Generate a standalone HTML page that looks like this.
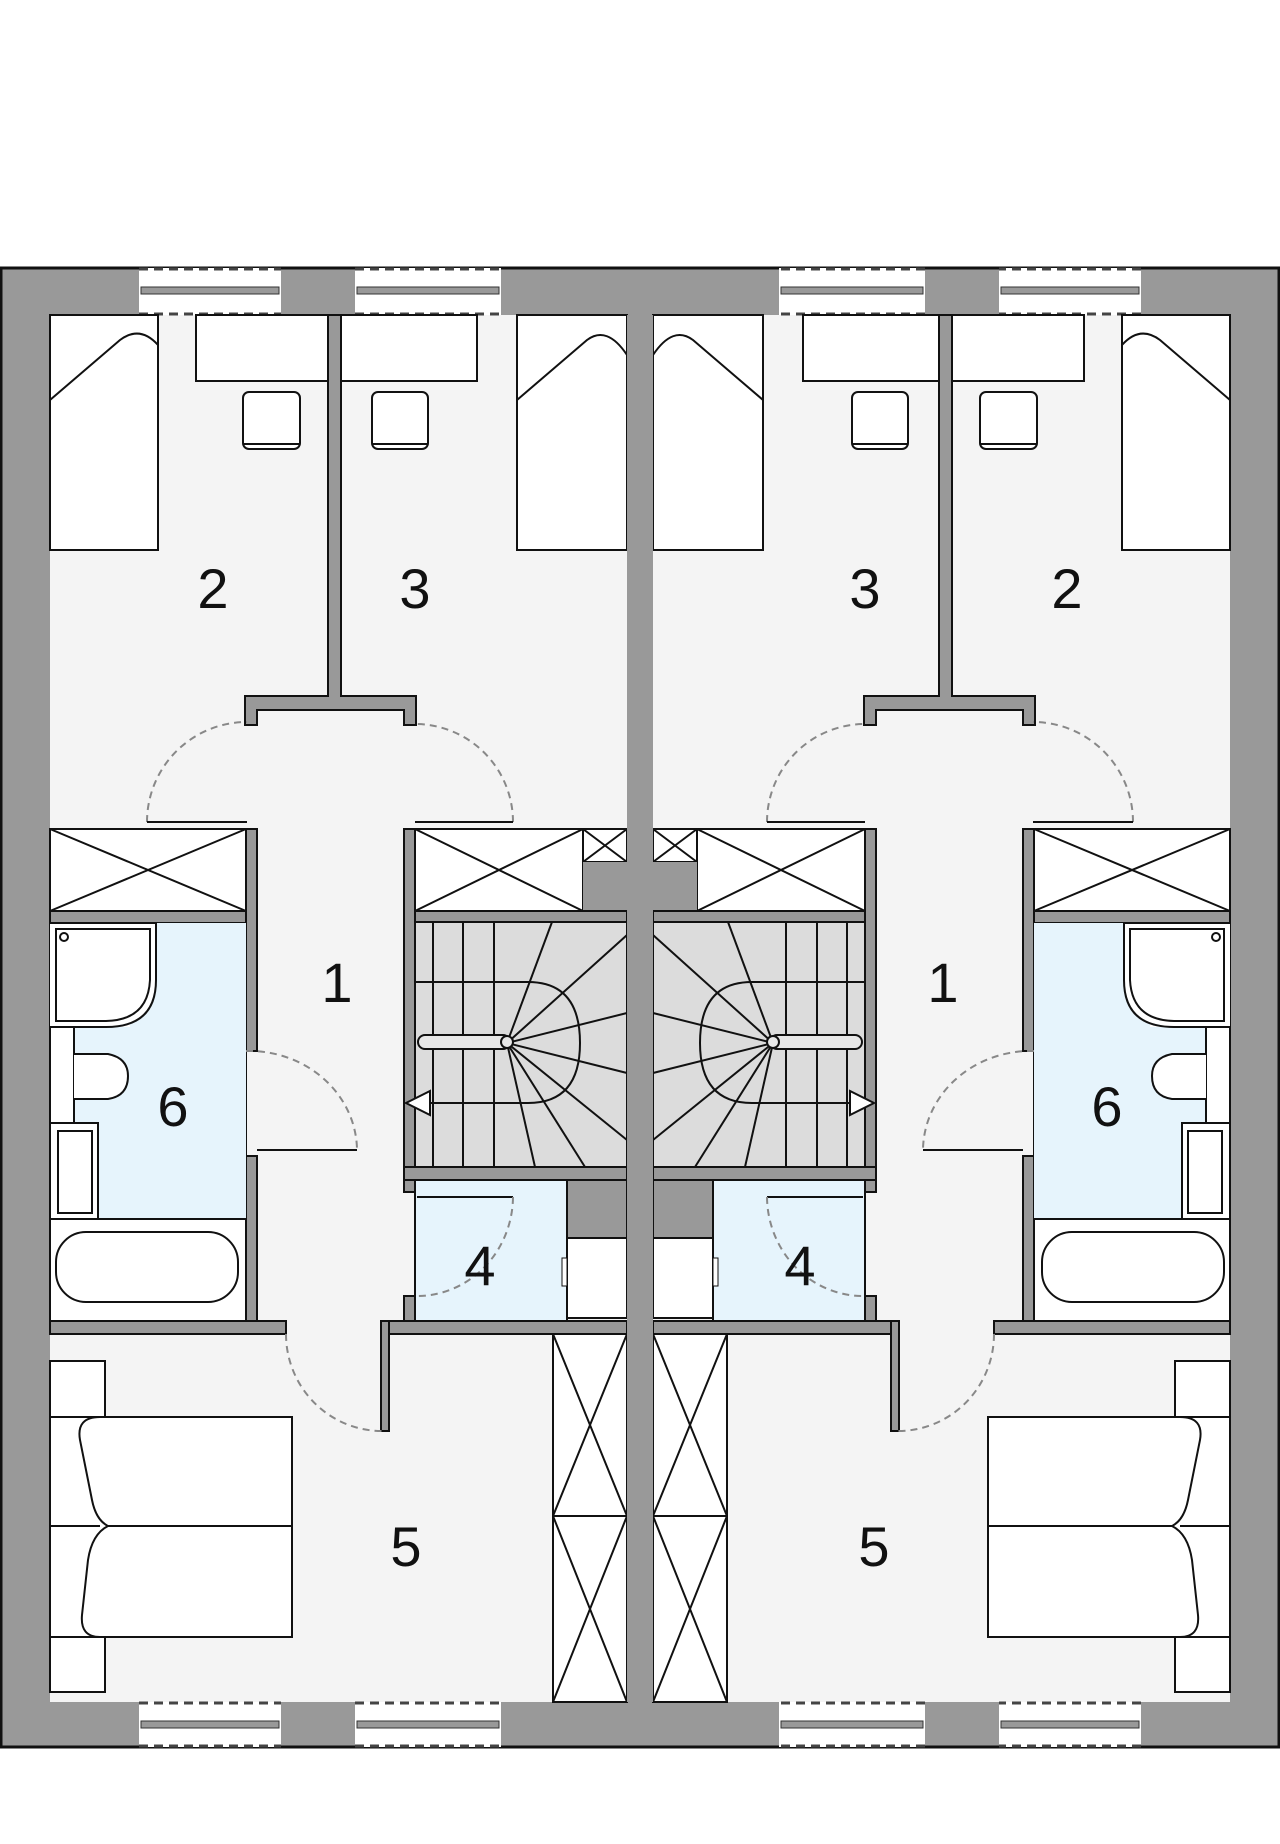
<!DOCTYPE html>
<html><head><meta charset="utf-8"><style>
html,body{margin:0;padding:0;background:#fff;}
svg{display:block;}
text{font-family:"Liberation Sans",sans-serif;font-size:56px;fill:#111;stroke:none;text-anchor:middle;}
</style></head><body>
<svg width="1280" height="1844" viewBox="0 0 1280 1844" xmlns="http://www.w3.org/2000/svg">
<defs>
<g id="half" stroke="#111" stroke-width="2">
  <rect x="50" y="315" width="577" height="1387" fill="#f4f4f4" stroke="none"/>
  <g>
    <rect x="139" y="268" width="142" height="47" fill="#fff" stroke="none"/>
    <rect x="355" y="268" width="146" height="47" fill="#fff" stroke="none"/>
    <line x1="139" y1="269" x2="281" y2="269" stroke="#444" stroke-width="3" stroke-dasharray="9,6"/>
    <line x1="139" y1="314" x2="281" y2="314" stroke="#444" stroke-width="3" stroke-dasharray="9,6"/>
    <line x1="355" y1="269" x2="501" y2="269" stroke="#444" stroke-width="3" stroke-dasharray="9,6"/>
    <line x1="355" y1="314" x2="501" y2="314" stroke="#444" stroke-width="3" stroke-dasharray="9,6"/>
    <rect x="141" y="287" width="138" height="7" fill="#999" stroke="#333" stroke-width="1"/>
    <rect x="357" y="287" width="142" height="7" fill="#999" stroke="#333" stroke-width="1"/>
  </g>
  <g>
    <rect x="139" y="1702" width="142" height="45" fill="#fff" stroke="none"/>
    <rect x="355" y="1702" width="146" height="45" fill="#fff" stroke="none"/>
    <line x1="139" y1="1703" x2="281" y2="1703" stroke="#444" stroke-width="3" stroke-dasharray="9,6"/>
    <line x1="139" y1="1746" x2="281" y2="1746" stroke="#444" stroke-width="3" stroke-dasharray="9,6"/>
    <line x1="355" y1="1703" x2="501" y2="1703" stroke="#444" stroke-width="3" stroke-dasharray="9,6"/>
    <line x1="355" y1="1746" x2="501" y2="1746" stroke="#444" stroke-width="3" stroke-dasharray="9,6"/>
    <rect x="141" y="1721" width="138" height="7" fill="#999" stroke="#333" stroke-width="1"/>
    <rect x="357" y="1721" width="142" height="7" fill="#999" stroke="#333" stroke-width="1"/>
  </g>
  <rect x="50" y="315" width="108" height="235" fill="#fff"/>
  <path d="M50 400 L120 340 Q140 325 158 345" fill="none"/>
  <rect x="196" y="315" width="132" height="66" fill="#fff"/>
  <rect x="243" y="392" width="57" height="57" rx="6" fill="#fff"/>
  <line x1="243" y1="444" x2="300" y2="444"/>
  <rect x="341" y="315" width="136" height="66" fill="#fff"/>
  <rect x="372" y="392" width="56" height="57" rx="6" fill="#fff"/>
  <line x1="372" y1="444" x2="428" y2="444"/>
  <rect x="517" y="315" width="110" height="235" fill="#fff"/>
  <path d="M517 400 L587 340 Q607 325 627 355" fill="none"/>
  <path d="M328 315 L341 315 L341 696 L416 696 L416 725 L404 725 L404 710 L257 710 L257 725 L245 725 L245 696 L328 696 Z" fill="#999"/>
  <path d="M147 822 A100 100 0 0 1 247 722" fill="none" stroke="#888" stroke-dasharray="7,5"/>
  <line x1="147" y1="822" x2="247" y2="822"/>
  <path d="M513 822 A98 98 0 0 0 415 724" fill="none" stroke="#888" stroke-dasharray="7,5"/>
  <line x1="415" y1="822" x2="513" y2="822"/>
  <rect x="50" y="829" width="196" height="82" fill="#fff"/>
  <path d="M50 829 L246 911 M246 829 L50 911"/>
  <rect x="415" y="829" width="168" height="82" fill="#fff"/>
  <path d="M415 829 L583 911 M583 829 L415 911"/>
  <rect x="583" y="829" width="44" height="33" fill="#fff"/>
  <path d="M583 829 L627 862 M627 829 L583 862"/>
  <rect x="583" y="862" width="44" height="60" fill="#999" stroke="none"/>
  <rect x="415" y="911" width="212" height="11" fill="#999"/>
  <rect x="50" y="911" width="196" height="12" fill="#999"/>
  <rect x="246" y="829" width="11" height="222" fill="#999"/>
  <rect x="246" y="1156" width="11" height="165" fill="#999"/>
  <rect x="404" y="829" width="11" height="363" fill="#999"/>
  <rect x="50" y="923" width="196" height="398" fill="#fff"/>
  <rect x="74" y="1027" width="172" height="192" fill="#e6f4fc" stroke="none"/>
  <rect x="130" y="923" width="116" height="104" fill="#e6f4fc" stroke="none"/>
  <path d="M50 923 L156 923 L156 980 Q156 1027 106 1027 L50 1027" fill="#fff"/>
  <path d="M56 929 L150 929 L150 980 Q148 1020 106 1021 L56 1021 Z" fill="#fff"/>
  <circle cx="64" cy="937" r="4" fill="#fff"/>
  <line x1="74" y1="1027" x2="74" y2="1123"/>
  <path d="M74 1054 L108 1054 Q128 1058 128 1076 Q128 1096 108 1099 L74 1099" fill="#fff"/>
  <rect x="50" y="1123" width="48" height="96" fill="#fff"/>
  <rect x="58" y="1131" width="34" height="82" fill="#fff"/>
  <rect x="50" y="1219" width="196" height="102" fill="#fff"/>
  <rect x="56" y="1232" width="182" height="70" rx="30" fill="#fff"/>
  <path d="M246 1051 A108 100 0 0 1 357 1150" fill="none" stroke="#888" stroke-dasharray="7,5"/>
  <line x1="257" y1="1150" x2="357" y2="1150"/>
  <rect x="415" y="922" width="212" height="245" fill="#dcdcdc"/>
  <g stroke-width="2">
    <line x1="433" y1="922" x2="433" y2="1167"/>
    <line x1="463" y1="922" x2="463" y2="1167"/>
    <line x1="494" y1="922" x2="494" y2="1167"/>
    <line x1="415" y1="982" x2="494" y2="982"/>
    <line x1="415" y1="1103" x2="494" y2="1103"/>
    <line x1="507" y1="1043" x2="552" y2="922"/>
    <line x1="507" y1="1043" x2="627" y2="935"/>
    <line x1="507" y1="1043" x2="627" y2="1013"/>
    <line x1="507" y1="1043" x2="627" y2="1073"/>
    <line x1="507" y1="1043" x2="627" y2="1140"/>
    <line x1="507" y1="1043" x2="585" y2="1167"/>
    <line x1="507" y1="1043" x2="535" y2="1167"/>
    <path d="M494 982 L528 982 Q580 982 580 1043 Q580 1103 528 1103 L428 1103" fill="none"/>
    <rect x="418" y="1035" width="92" height="14" rx="7" fill="#e8e8e8"/>
    <circle cx="507" cy="1042" r="6" fill="#e8e8e8"/>
    <path d="M406 1103 L430 1091 L430 1115 Z" fill="#fff"/>
  </g>
  <rect x="404" y="1167" width="223" height="13" fill="#999"/>
  <rect x="415" y="1180" width="152" height="141" fill="#e6f4fc"/>
  <rect x="567" y="1180" width="60" height="58" fill="#999"/>
  <rect x="567" y="1238" width="60" height="80" fill="#fff"/>
  <rect x="562" y="1258" width="5" height="28" fill="#fff" stroke-width="1"/>
  <line x1="417" y1="1197" x2="513" y2="1197"/>
  <path d="M513 1197 A96 100 0 0 1 417 1296" fill="none" stroke="#888" stroke-dasharray="7,5"/>
  <rect x="404" y="1296" width="11" height="25" fill="#999"/>
  <rect x="50" y="1321" width="236" height="13" fill="#999"/>
  <rect x="389" y="1321" width="238" height="13" fill="#999"/>
  <rect x="381" y="1321" width="8" height="110" fill="#999"/>
  <path d="M286 1334 A96 97 0 0 0 382 1431" fill="none" stroke="#888" stroke-dasharray="7,5"/>
  <rect x="553" y="1334" width="74" height="368" fill="#fff"/>
  <line x1="553" y1="1516" x2="627" y2="1516"/>
  <path d="M553 1334 L627 1516 M627 1334 L553 1516 M553 1516 L627 1702 M627 1516 L553 1702"/>
  <rect x="50" y="1361" width="55" height="56" fill="#fff"/>
  <rect x="50" y="1637" width="55" height="55" fill="#fff"/>
  <rect x="50" y="1417" width="242" height="220" fill="#fff"/>
  <line x1="50" y1="1526" x2="292" y2="1526"/>
  <path d="M100 1417 Q76 1417 80 1440 L92 1500 Q96 1520 108 1526 Q92 1534 88 1560 L82 1615 Q80 1637 100 1637" fill="#fff"/>
</g>
</defs>
<rect x="1" y="268" width="1278" height="1479" fill="#999" stroke="#111" stroke-width="3"/>
<use href="#half"/>
<use href="#half" transform="translate(1280,0) scale(-1,1)"/>
<rect x="627" y="315" width="26" height="1387" fill="#999"/>
<g>
  <text x="213" y="608">2</text>
  <text x="415" y="608">3</text>
  <text x="337" y="1002">1</text>
  <text x="173" y="1126">6</text>
  <text x="480" y="1285">4</text>
  <text x="406" y="1566">5</text>
  <text x="1067" y="608">2</text>
  <text x="865" y="608">3</text>
  <text x="943" y="1002">1</text>
  <text x="1107" y="1126">6</text>
  <text x="800" y="1285">4</text>
  <text x="874" y="1566">5</text>
</g>
</svg>
</body></html>
